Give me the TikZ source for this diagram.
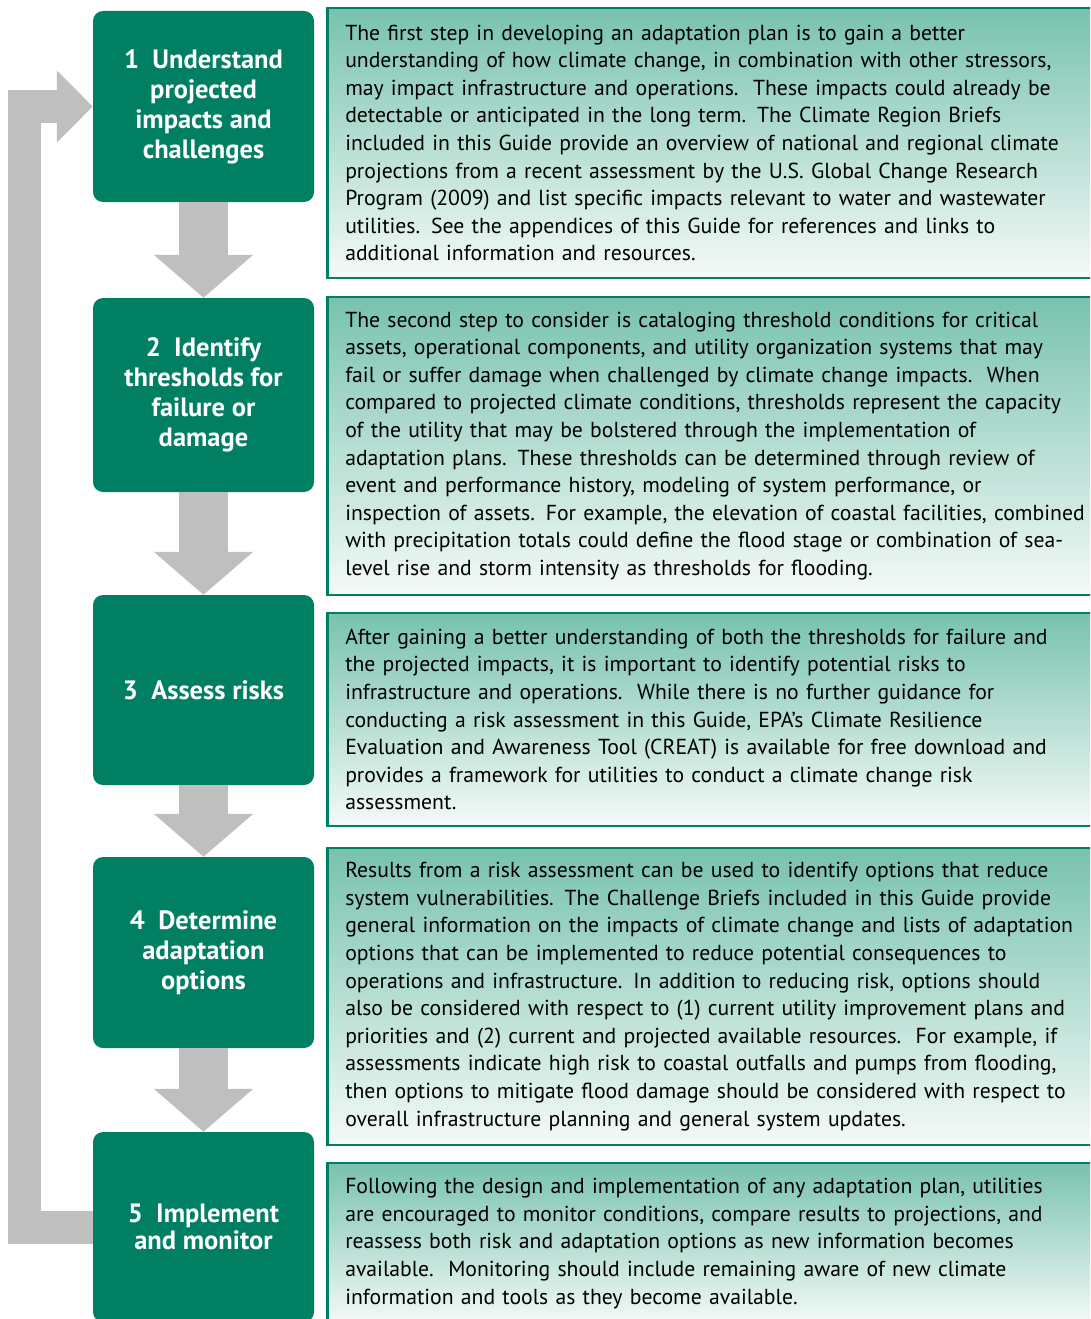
\documentclass[tikz,border=0pt]{standalone}
\usepackage{fontspec}
\setmainfont{PT Sans}
\usetikzlibrary{arrows.meta}

\definecolor{stepgreen}{RGB}{0,127,99}
\definecolor{notegreen}{RGB}{120,194,174}
\definecolor{notewhite}{RGB}{244,250,248}
\definecolor{arrowgray}{RGB}{191,191,191}

\begin{document}
\begin{tikzpicture}[x=1pt, y=-1pt,
  stepbox/.style={fill=stepgreen, rounded corners=10pt, minimum width=221pt,
    align=center, text=white, font=\fontsize{26.5}{30}\selectfont\bfseries},
  notebox/.style={draw=stepgreen, line width=2.5pt, top color=notegreen,
    bottom color=notewhite, anchor=west, minimum width=800pt, text width=764pt,
    inner xsep=18pt, align=left, font=\fontsize{21.7}{27.6}\selectfont},
  flow/.style={draw=arrowgray, line width=49pt,
    -{Triangle[width=97pt,length=43pt]}},
  loopback/.style={draw=arrowgray, line width=33pt,
    -{Triangle[width=70pt,length=36pt]}}]

\useasboundingbox (0,0) rectangle (1090,1319);
\clip (0,0) rectangle (1090,1319);

% steps
\node[stepbox, minimum height=191pt] (s1) at (203.5,106.5)
  {1~~Understand\\projected\\impacts and\\challenges};
\node[stepbox, minimum height=194pt] (s2) at (203.5,395)
  {2~~Identify\\thresholds for\\failure or\\damage};
\node[stepbox, minimum height=190pt] (s3) at (203.5,690)
  {3~~Assess risks};
\node[stepbox, minimum height=191pt] (s4) at (203.5,952.5)
  {4~~Determine\\adaptation\\options};
\node[stepbox, minimum height=190pt, font=\fontsize{26.5}{27}\selectfont\bfseries]
  (s5) at (203.5,1227) {5~~Implement\\and monitor};

% arrows
\draw[flow] (s1.south) -- (s2.north);
\draw[flow] (s2.south) -- (s3.north);
\draw[flow] (s3.south) -- (s4.north);
\draw[flow] (s4.south) -- (s5.north);
\draw[loopback] (s5.west) -- ++(-68.5,0) |- (s1.west);

% notes
\node[notebox, minimum height=270pt] (n1) at (326,143) {%
The first step in developing an adaptation plan is to gain a better\\
understanding of how climate change, in combination with other stressors,\\
may impact infrastructure and operations.\ \ These impacts could already be\\
detectable or anticipated in the long term. The Climate Region Briefs\\
included in this Guide provide an overview of national and regional climate\\
projections from a recent assessment by the U.S. Global Change Research\\
Program (2009) and list specific impacts relevant to water and wastewater\\
utilities. See the appendices of this Guide for references and links to\\
additional information and resources.};

\node[notebox, minimum height=298pt] (n2) at (326,446) {%
The second step to consider is cataloging threshold conditions for critical\\
assets, operational components, and utility organization systems that may\\
fail or suffer damage when challenged by climate change impacts.\ \ When\\
compared to projected climate conditions, thresholds represent the capacity\\
of the utility that may be bolstered through the implementation of\\
adaptation plans. These thresholds can be determined through review of\\
event and performance history, modeling of system performance, or\\
inspection of assets. For example, the elevation of coastal facilities, combined\\
with precipitation totals could define the flood stage or combination of sea-\\
level rise and storm intensity as thresholds for flooding.};

\node[notebox, minimum height=213pt] (n3) at (326,719.5) {%
After gaining a better understanding of both the thresholds for failure and\\
the projected impacts, it is important to identify potential risks to\\
infrastructure and operations.\ \ While there is no further guidance for\\
conducting a risk assessment in this Guide, EPA’s Climate Resilience\\
Evaluation and Awareness Tool (CREAT) is available for free download and\\
provides a framework for utilities to conduct a climate change risk\\
assessment.};

\node[notebox, minimum height=297pt] (n4) at (326,996.5) {%
Results from a risk assessment can be used to identify options that reduce\\
system vulnerabilities. The Challenge Briefs included in this Guide provide\\
general information on the impacts of climate change and lists of adaptation\\
options that can be implemented to reduce potential consequences to\\
operations and infrastructure. In addition to reducing risk, options should\\
also be considered with respect to (1) current utility improvement plans and\\
priorities and (2) current and projected available resources.\ \ For example, if\\
assessments indicate high risk to coastal outfalls and pumps from flooding,\\
then options to mitigate flood damage should be considered with respect to\\
overall infrastructure planning and general system updates.};

\node[notebox, minimum height=161pt] (n5) at (326,1243.5) {%
Following the design and implementation of any adaptation plan, utilities\\
are encouraged to monitor conditions, compare results to projections, and\\
reassess both risk and adaptation options as new information becomes\\
available.\ \ Monitoring should include remaining aware of new climate\\
information and tools as they become available.};

\end{tikzpicture}
\end{document}
